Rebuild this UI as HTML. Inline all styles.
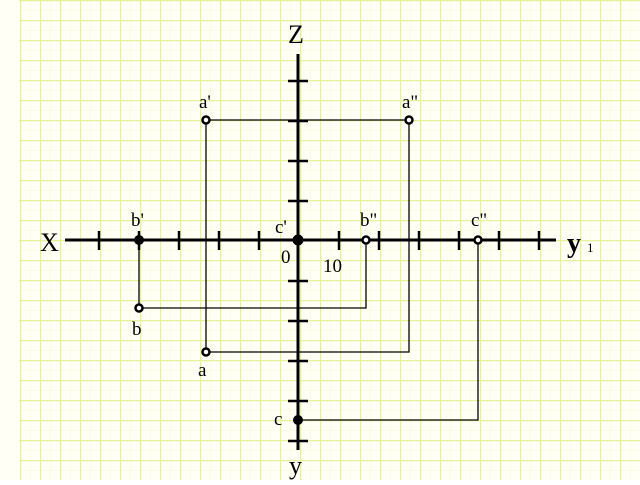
<!DOCTYPE html>
<html><head><style>
html,body{margin:0;padding:0;background:#fff;}
svg text{font-family:"Liberation Serif",serif;fill:#000;}
</style></head><body>
<svg width="640" height="480" xmlns="http://www.w3.org/2000/svg">
<defs>
<pattern id="minor" width="10" height="10" patternUnits="userSpaceOnUse">
<path d="M0 0H10M0 0V10" stroke="#f5f9d2" stroke-width="1" fill="none"/>
</pattern>
<pattern id="major" width="20" height="20" patternUnits="userSpaceOnUse">
<path d="M0 0.5H20M0.5 0V20" stroke="#e6f29a" stroke-width="1.5" fill="none"/>
</pattern>
</defs>
<rect x="0" y="0" width="640" height="480" fill="#fffff6"/>
<rect x="18" y="0" width="622" height="480" fill="url(#minor)"/>
<rect x="19" y="0" width="621" height="480" fill="url(#major)"/>
<g stroke="#000" fill="none">
<line x1="65" y1="240" x2="556" y2="240" stroke-width="3"/>
<line x1="298" y1="54" x2="298" y2="450" stroke-width="3"/>
<g stroke-width="2.5">
<path d="M99 231V250M139 231V250M179 231V250M219 231V250M259 231V250M339 231V250M379 231V250M419 231V250M459 231V250M499 231V250M539 231V250"/>
<path d="M288 81H308M288 121H308M288 161H308M288 201H308M288 281H308M288 321H308M288 361H308M288 401H308M288 441H308"/>
</g>
<g stroke-width="1.3">
<path d="M206 120H409V352H206Z"/>
<path d="M139 240V308H366V240"/>
<path d="M478 240V420H298"/>
</g>
</g>
<g fill="#fff" stroke="#000" stroke-width="2.5">
<circle cx="206" cy="120" r="3.5"/>
<circle cx="409" cy="120" r="3.5"/>
<circle cx="366" cy="240" r="3.5"/>
<circle cx="478" cy="240" r="3.5"/>
<circle cx="139" cy="308" r="3.5"/>
<circle cx="206" cy="352" r="3.5"/>
</g>
<g fill="#000">
<circle cx="139" cy="240" r="5"/>
<circle cx="298" cy="240" r="5.5"/>
<circle cx="298" cy="420" r="5"/>
</g>
<g font-size="26">
<text x="40" y="251">X</text>
<text x="288" y="43">Z</text>
</g>
<text x="567" y="252" font-size="28" font-weight="bold">y</text>
<text x="587" y="252" font-size="13">1</text>
<text x="289" y="474" font-size="26">y</text>
<g font-size="19">
<text x="199" y="108">a'</text>
<text x="402" y="108">a"</text>
<text x="131" y="226">b'</text>
<text x="360" y="226">b"</text>
<text x="275" y="233">c'</text>
<text x="471" y="226">c"</text>
<text x="281" y="263">0</text>
<text x="323" y="272">10</text>
<text x="132" y="335">b</text>
<text x="198" y="376">a</text>
<text x="274" y="425">c</text>
</g>
</svg>
</body></html>
